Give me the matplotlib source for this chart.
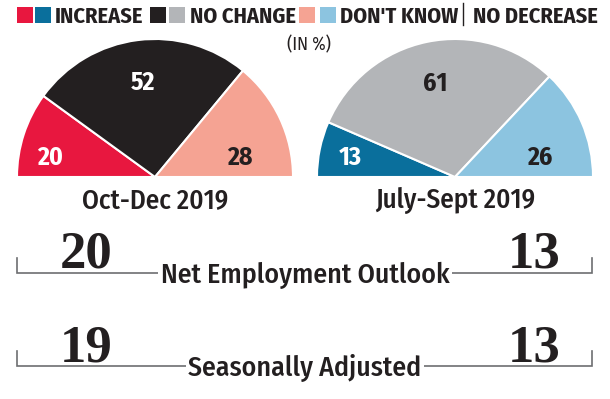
import matplotlib
matplotlib.use('Agg')
from matplotlib import pyplot as plt
from matplotlib.patches import Rectangle
import numpy as np

# data
periods = ['Oct-Dec 2019', 'July-Sept 2019']
oct_dec = [20, 52, 28]      # increase, no change, don't know
jul_sep = [13, 61, 26]
net_outlook = [20, 13]
seasonally_adj = [19, 13]
legend_labels = ['INCREASE', 'NO CHANGE', "DON'T KNOW", 'NO DECREASE']

# styles
DARK = '#231f20'
oct_colors = ['#e8173f', '#231f20', '#f5a393']
jul_colors = ['#0a6f9c', '#b3b5b8', '#8cc4e0']
oct_txt = ['white', 'white', DARK]
jul_txt = ['white', DARK, DARK]
COND = ['Fira Sans Condensed', 'DejaVu Sans']
SERIF = ['Liberation Serif', 'DejaVu Serif']

W, H = 610, 399


def py(y):
    # picture pixel row -> data y
    return H - y


fig = plt.figure(figsize=(W / 100, H / 100), dpi=100)
ax = fig.add_axes([0, 0, 1, 1])

R = 138
base = 177
for vals, cols, tcols, cx, title in [(oct_dec, oct_colors, oct_txt, 155, periods[0]),
                                     (jul_sep, jul_colors, jul_txt, 455, periods[1])]:
    wedges, _ = ax.pie(vals + [sum(vals)], colors=cols + ['white'], startangle=180,
                       counterclock=False, radius=R, center=(cx, py(base)), frame=True,
                       wedgeprops=dict(edgecolor='white', linewidth=1.5))
    wedges[-1].set_visible(False)
    # labels: side ones sit low, middle one follows its wedge angle
    mid = np.deg2rad((wedges[1].theta1 + wedges[1].theta2) / 2)
    pos = [(cx - 105, py(base) + 21),
           (cx + 0.70 * R * np.cos(mid), py(base) + 0.70 * R * np.sin(mid)),
           (cx + 85, py(base) + 21)]
    for (x, y), v, c in zip(pos, vals, tcols):
        ax.text(x, y - 9, str(v), ha='center', va='baseline', color=c, fontsize=18.5,
                fontweight='bold', family=COND)
    ax.text(cx, py(208), title, ha='center', va='baseline', color=DARK,
            fontsize=19.5, fontweight=500, family=COND)

# legend row
sq = [(17, oct_colors[0]), (35, jul_colors[0]), (150, oct_colors[1]), (169, jul_colors[1]),
      (299, oct_colors[2]), (320, jul_colors[2])]
for x, c in sq:
    ax.add_patch(Rectangle((x, py(23)), 15.5, 16, facecolor=c, edgecolor='none'))
for x, lab in zip([55, 190, 340, 473], legend_labels):
    ax.text(x, py(23), lab, ha='left', va='baseline', color=DARK, fontsize=16,
            fontweight='bold', family=COND)
ax.plot([463, 463], [py(3), py(25)], color=DARK, lw=1)
ax.text(309, py(50), '(IN %)', ha='center', va='baseline', color=DARK, fontsize=13,
        family=COND)

# bracket rows
for vals, label, line_y in [(net_outlook, 'Net Employment Outlook', 273),
                            (seasonally_adj, 'Seasonally Adjusted', 366)]:
    ax.plot([17, 17, 592, 592], [py(line_y - 15), py(line_y), py(line_y), py(line_y - 15)],
            color='#6d6e71', lw=1.2, solid_joinstyle='miter')
    ax.text(86, py(line_y - 5), str(vals[0]), ha='center', va='baseline', color=DARK,
            fontsize=38, fontweight='bold', family=SERIF)
    ax.text(534, py(line_y - 5), str(vals[1]), ha='center', va='baseline', color=DARK,
            fontsize=38, fontweight='bold', family=SERIF)
    ax.text(305, py(line_y + 10), label, ha='center', va='baseline', color=DARK,
            fontsize=20, fontweight=500, family=COND,
            bbox=dict(facecolor='white', edgecolor='none', pad=2))

ax.set_xlim(0, W)
ax.set_ylim(0, H)
ax.set_aspect('auto')
ax.axis('off')

fig.savefig('out.png', dpi=100)
